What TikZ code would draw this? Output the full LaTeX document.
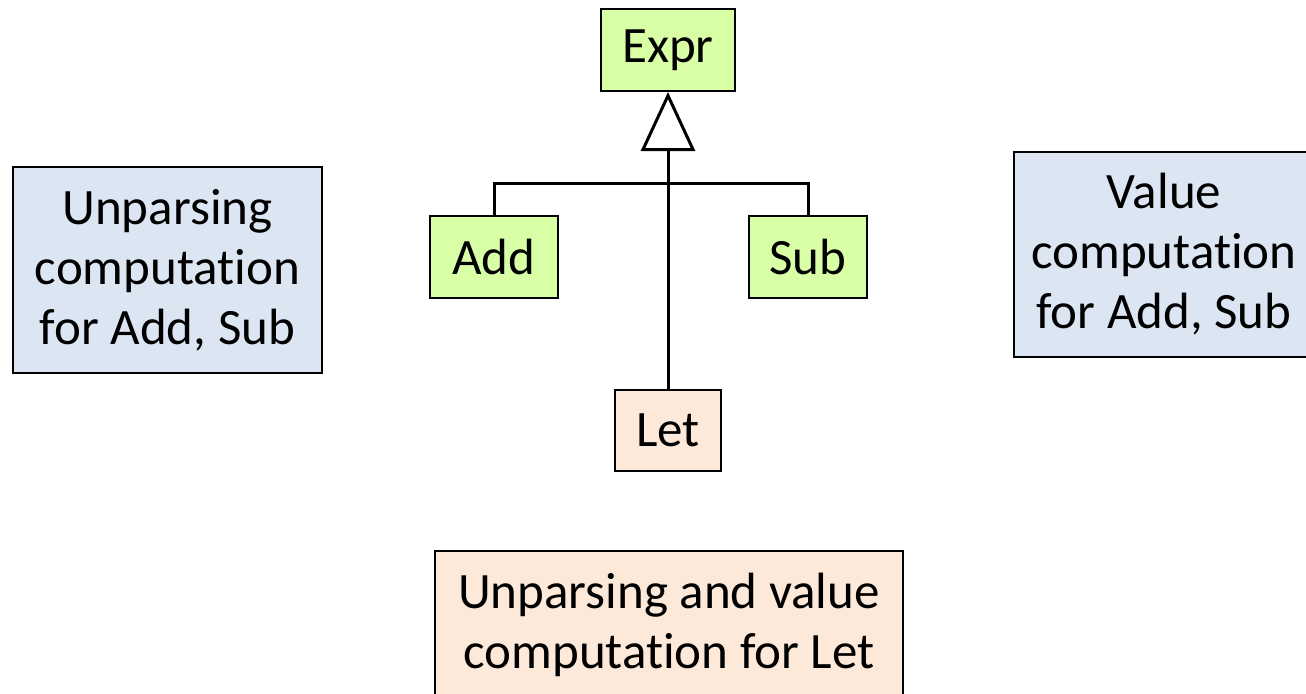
\documentclass[tikz,border=0pt]{standalone}
\usepackage{fontspec}
\setmainfont{Carlito}[Ligatures=NoCommon]
\usetikzlibrary{arrows.meta}
\definecolor{classgreen}{RGB}{217,255,166}
\definecolor{opblue}{RGB}{220,230,242}
\definecolor{letpeach}{RGB}{253,233,217}
\begin{document}
\begin{tikzpicture}[x=0.5pt, y=-0.5pt,
		every node/.style={font=\fontsize{25.5}{30}\selectfont, inner sep=0pt, align=center},
		cls/.style={draw, line width=1pt, minimum height=41pt},
		opbox/.style={draw, line width=1pt, fill=opblue},
		link/.style={line width=1.5pt}]
		\useasboundingbox (0,0) rectangle (1306,693);
		\node[cls, fill=classgreen, minimum width=67pt] (expr) at (668,50) {Expr};
		\node[cls, fill=classgreen, minimum width=64pt] (add) at (494,257) {Add};
		\node[cls, fill=classgreen, minimum width=59pt] (sub) at (808,257) {Sub};
		\node[cls, fill=letpeach, minimum width=53pt, minimum height=40.5pt] (let) at (668,430) {Let};
		\node[opbox, minimum width=154.5pt, minimum height=103pt] (unparse) at (167.5,270) {Unparsing\\computation\\for Add, Sub};
		\node[opbox, minimum width=150pt, minimum height=102.5pt] (value) at (1164,254.5) {Value\\computation\\for Add, Sub};
		\node[opbox, fill=letpeach, minimum width=234pt, minimum height=74pt] (letops) at (669,625) {Unparsing and value\\computation for Let};
		\coordinate (hub) at (668,183);
		\draw[link, -{Triangle[open, width=27pt, length=29.5pt, line width=1.5pt]}] (hub) -- (expr.south);
		\draw[link] (add.north) |- (hub) -| (sub.north);
		\draw[link] (hub) -- (let.north);
	\end{tikzpicture}
\end{document}
